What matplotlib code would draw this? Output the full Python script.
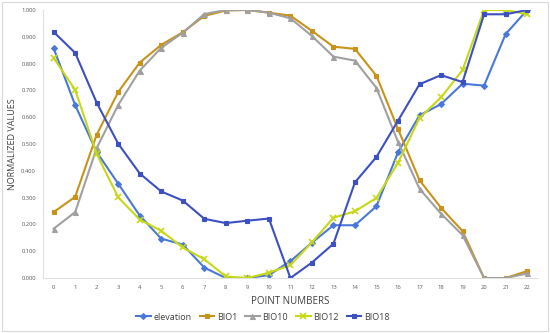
import matplotlib
matplotlib.use("Agg")
import matplotlib.pyplot as plt
from matplotlib.patches import Rectangle

points = list(range(23))
elevation = [0.857, 0.645, 0.470, 0.352, 0.233, 0.147, 0.125, 0.039, 0.000, 0.000, 0.011, 0.063,
             0.132, 0.197, 0.197, 0.268, 0.469, 0.607, 0.649, 0.725, 0.718, 0.910, 1.000]
bio1 = [0.246, 0.303, 0.535, 0.694, 0.804, 0.870, 0.917, 0.978, 0.998, 1.000, 0.990, 0.979,
        0.922, 0.863, 0.855, 0.754, 0.556, 0.365, 0.262, 0.175, 0.000, 0.000, 0.026]
bio10 = [0.184, 0.246, 0.485, 0.646, 0.774, 0.859, 0.915, 0.985, 1.000, 1.000, 0.990, 0.969,
         0.903, 0.826, 0.811, 0.709, 0.508, 0.333, 0.240, 0.160, 0.000, 0.000, 0.017]
bio12 = [0.821, 0.702, 0.463, 0.301, 0.218, 0.176, 0.114, 0.070, 0.006, 0.000, 0.020, 0.048,
         0.133, 0.225, 0.249, 0.299, 0.430, 0.597, 0.674, 0.776, 1.000, 1.000, 0.984]
bio18 = [0.918, 0.840, 0.654, 0.501, 0.390, 0.323, 0.289, 0.221, 0.205, 0.214, 0.222, 0.000,
         0.058, 0.128, 0.357, 0.452, 0.587, 0.723, 0.757, 0.731, 0.984, 0.984, 1.000]
yticks = [0.0, 0.1, 0.2, 0.3, 0.4, 0.5, 0.6, 0.7, 0.8, 0.9, 1.0]

plt.rcParams['font.family'] = ['Open Sans', 'DejaVu Sans']

fig = plt.figure(figsize=(5.5, 3.33), dpi=100)
fig.patches.append(Rectangle((0.004, 0.006), 0.992, 0.988, transform=fig.transFigure,
                             fill=False, edgecolor='#d9d9d9', linewidth=0.8))
ax = fig.add_axes([0.078, 0.165, 0.900, 0.805])

series = [
    ("elevation", elevation, "#4a78d8", "D", 3.0),
    ("BIO1", bio1, "#c8931a", "s", 3.0),
    ("BIO10", bio10, "#a0a0a0", "^", 3.6),
    ("BIO12", bio12, "#c6d816", "x", 4.2),
    ("BIO18", bio18, "#3c50c0", "s", 3.3),
]
for name, vals, col, mk, ms in series:
    ax.plot(points, vals, color=col, marker=mk, markersize=ms, linewidth=1.5,
            markeredgewidth=1.2 if mk == "x" else 0.8, label=name)

ax.set_xlim(-0.5, 22.5)
ax.set_ylim(0, 1.0)
ax.set_xticks(points)
ax.set_yticks(yticks)
ax.set_yticklabels([f"{v:.3f}" for v in yticks])
ax.tick_params(axis='both', length=0, labelsize=4.2, colors='#595959', pad=5)
for s in ['top', 'right']:
    ax.spines[s].set_visible(False)
for s in ['left', 'bottom']:
    ax.spines[s].set_color('#e0e0e0')
    ax.spines[s].set_linewidth(0.8)

ax.set_xlabel("POINT NUMBERS", fontsize=7, color='#404040', labelpad=4)
ax.set_ylabel("NORMALIZED VALUES", fontsize=6.5, color='#404040')
ax.yaxis.set_label_coords(-0.052, 0.5)

leg = fig.legend(loc='center', bbox_to_anchor=(0.478, 0.048), ncol=5, frameon=False,
                 fontsize=6.5, handlelength=1.6, columnspacing=0.9, handletextpad=0.3,
                 labelcolor='#404040')

fig.savefig("out.png", dpi=100)
